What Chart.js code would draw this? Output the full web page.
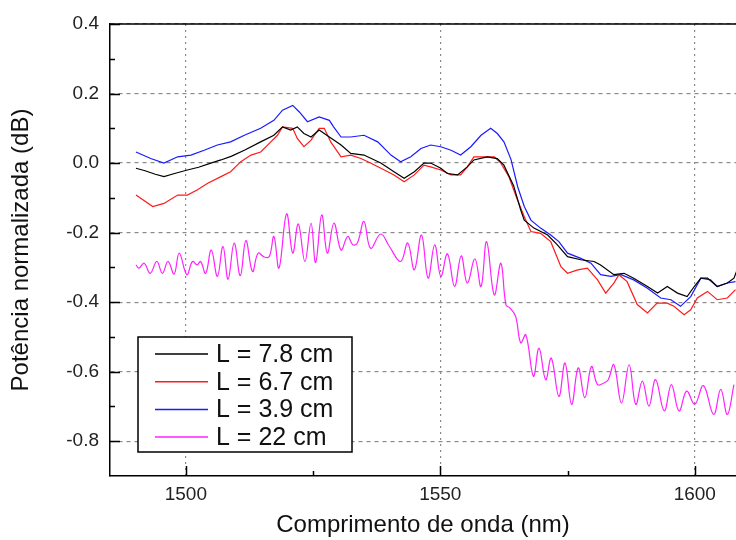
<!DOCTYPE html>
<html>
<head>
<meta charset="utf-8">
<title>Potência normalizada</title>
<script src="https://cdn.jsdelivr.net/npm/chart.js"></script>
<style>
    html, body { margin: 0; padding: 0; background: #fff; }
    #chartBox { width: 736px; height: 540px; }
</style>
</head>
<body>
<div id="chartBox"><canvas id="spectrumChart"></canvas></div>
<script>
// Series data (wavelength in nm, power in dB)
const seriesLabels = ['L = 7.8 cm', 'L = 6.7 cm', 'L = 3.9 cm', 'L = 22 cm'];
const seriesColors = ['#000000', '#ff1a1a', '#1a1aff', '#ff22ff'];

const wlBlack = [1490.2, 1492.0, 1494.0, 1495.7, 1497.8, 1500.3, 1502.5, 1504.9, 1506.9, 1509.0, 1511.5,
    1514.7, 1517.3, 1519.0, 1520.6, 1521.9, 1523.2, 1524.6, 1526.2, 1528.2, 1530.5, 1532.4, 1535.0,
    1538.3, 1540.9, 1542.9, 1544.9, 1546.8, 1548.1, 1550.1, 1551.4, 1553.4, 1555.3, 1556.6, 1559.2,
    1561.2, 1562.5, 1564.4, 1565.8, 1566.5, 1568.4, 1571.1, 1573.0, 1575.0, 1577.6, 1580.2, 1581.5,
    1584.1, 1586.1, 1588.0, 1590.7, 1592.7, 1594.6, 1596.6, 1598.5, 1599.9, 1601.2, 1602.5, 1604.4,
    1606.4, 1607.7, 1608.2];
const powBlack = [-0.015, -0.022, -0.032, -0.039, -0.030, -0.020, -0.012, 0.000, 0.009, 0.020, 0.037,
    0.061, 0.080, 0.104, 0.095, 0.104, 0.085, 0.075, 0.095, 0.075, 0.052, 0.028, 0.023,
    0.000, -0.025, -0.044, -0.025, 0.000, 0.000, -0.015, -0.030, -0.034, -0.011, 0.009, 0.018,
    0.013, -0.006, -0.065, -0.135, -0.164, -0.187, -0.207, -0.235, -0.269, -0.278, -0.283, -0.293,
    -0.321, -0.317, -0.331, -0.355, -0.374, -0.355, -0.374, -0.384, -0.355, -0.331, -0.331, -0.355,
    -0.345, -0.331, -0.312];

const wlRed = [1490.2, 1493.5, 1495.7, 1498.4, 1500.3, 1502.3, 1504.3, 1506.9, 1508.8, 1510.8, 1512.8,
    1514.7, 1516.7, 1518.0, 1519.0, 1521.0, 1521.9, 1523.2, 1524.6, 1526.2, 1527.2, 1528.5, 1530.5,
    1532.4, 1534.4, 1536.3, 1539.0, 1540.9, 1542.9, 1544.9, 1546.8, 1548.1, 1550.1, 1552.1, 1554.0,
    1555.3, 1556.6, 1558.6, 1560.6, 1561.9, 1563.5, 1565.0, 1566.5, 1567.8, 1569.7, 1571.7, 1573.7,
    1575.0, 1577.0, 1578.9, 1580.9, 1582.5, 1584.1, 1585.1, 1586.7, 1588.7, 1590.7, 1592.6, 1594.6,
    1595.9, 1597.9, 1599.2, 1600.5, 1602.5, 1604.4, 1606.4, 1608.0];
const powRed = [-0.092, -0.125, -0.116, -0.092, -0.092, -0.077, -0.058, -0.039, -0.025, 0.004, 0.023,
    0.032, 0.061, 0.080, 0.104, 0.100, 0.071, 0.047, 0.066, 0.100, 0.100, 0.060, 0.018,
    0.023, 0.013, 0.000, -0.020, -0.034, -0.054, -0.034, -0.006, -0.011, -0.020, -0.034, -0.034,
    -0.011, 0.018, 0.018, 0.018, 0.000, -0.040, -0.100, -0.154, -0.197, -0.202, -0.226, -0.298,
    -0.317, -0.307, -0.302, -0.336, -0.374, -0.345, -0.321, -0.341, -0.407, -0.431, -0.403, -0.403,
    -0.412, -0.436, -0.422, -0.388, -0.369, -0.393, -0.388, -0.364];

const wlBlue = [1490.2, 1493.1, 1495.7, 1498.4, 1501.0, 1503.6, 1506.2, 1508.8, 1511.5, 1514.7, 1517.3,
    1519.0, 1521.0, 1522.3, 1523.9, 1526.2, 1528.2, 1529.0, 1530.5, 1532.4, 1535.0, 1537.7, 1540.3,
    1542.2, 1544.2, 1546.2, 1548.1, 1550.1, 1552.1, 1554.0, 1556.0, 1558.0, 1559.9, 1561.2, 1562.5,
    1563.9, 1565.2, 1566.5, 1567.8, 1569.7, 1571.7, 1573.3, 1575.0, 1577.6, 1579.6, 1581.5, 1583.5,
    1585.5, 1588.0, 1590.7, 1593.3, 1595.3, 1597.2, 1599.2, 1601.2, 1603.1, 1604.4, 1606.4, 1608.0];
const powBlue = [0.032, 0.013, 0.000, 0.018, 0.023, 0.037, 0.052, 0.061, 0.080, 0.100, 0.123,
    0.152, 0.166, 0.147, 0.119, 0.133, 0.123, 0.105, 0.075, 0.075, 0.080, 0.061, 0.023,
    0.004, 0.018, 0.042, 0.052, 0.047, 0.037, 0.023, 0.047, 0.080, 0.100, 0.085, 0.061,
    0.010, -0.068, -0.125, -0.164, -0.187, -0.207, -0.226, -0.259, -0.274, -0.288, -0.321, -0.326,
    -0.321, -0.336, -0.360, -0.388, -0.393, -0.412, -0.384, -0.331, -0.336, -0.355, -0.345, -0.341];

const wlMagenta = [1490.2, 1490.8, 1491.8, 1493.0, 1494.3, 1495.4, 1496.5, 1497.7, 1498.7, 1500.2,
    1501.3, 1502.2, 1502.9, 1503.9, 1505.0, 1506.2, 1507.3, 1508.3, 1509.5, 1510.7, 1511.8, 1513.1,
    1514.2, 1515.4, 1516.4, 1517.3, 1518.3, 1519.8, 1521.0, 1522.1, 1523.4, 1524.6, 1525.5, 1526.7,
    1527.8, 1529.1, 1530.5, 1531.8, 1532.8, 1533.7, 1535.0, 1536.3, 1538.3, 1540.0, 1542.2, 1543.6,
    1544.9, 1546.3, 1547.6, 1548.9, 1550.1, 1551.4, 1552.8, 1554.1, 1555.3, 1556.8, 1558.0, 1559.1,
    1560.6, 1561.9, 1562.9, 1563.7, 1564.8, 1565.8, 1566.8, 1568.3, 1569.4, 1570.7, 1571.8, 1573.3,
    1574.5, 1575.8, 1577.1, 1578.4, 1579.7, 1580.9, 1582.2, 1583.0, 1584.1, 1585.6, 1587.1, 1588.4,
    1589.7, 1591.0, 1592.3, 1594.0, 1595.4, 1596.9, 1598.4, 1600.0, 1601.7, 1603.7, 1605.1, 1606.4,
    1607.7];
const powMagenta = [-0.293, -0.302, -0.288, -0.317, -0.283, -0.317, -0.283, -0.319, -0.259, -0.321,
    -0.283, -0.293, -0.283, -0.317, -0.250, -0.326, -0.240, -0.334, -0.230, -0.324, -0.223, -0.312,
    -0.259, -0.270, -0.269, -0.211, -0.302, -0.146, -0.259, -0.175, -0.283, -0.173, -0.286, -0.149,
    -0.259, -0.173, -0.250, -0.211, -0.235, -0.230, -0.168, -0.245, -0.204, -0.240, -0.283, -0.230,
    -0.307, -0.207, -0.331, -0.235, -0.326, -0.261, -0.355, -0.267, -0.345, -0.276, -0.355, -0.226,
    -0.379, -0.288, -0.408, -0.417, -0.441, -0.517, -0.494, -0.613, -0.532, -0.623, -0.561, -0.671,
    -0.575, -0.694, -0.589, -0.675, -0.585, -0.637, -0.632, -0.623, -0.580, -0.690, -0.580, -0.694,
    -0.627, -0.699, -0.623, -0.713, -0.637, -0.713, -0.656, -0.694, -0.640, -0.723, -0.651, -0.723,
    -0.637];

// Axis ticks
const xRange = [1485.1, 1608.1];
const yRange = [-0.9, 0.4];
const xTicks = [1500, 1550, 1600];
const xMinorTicks = [1525, 1575];
const yTicks = [0.4, 0.2, 0.0, -0.2, -0.4, -0.6, -0.8];
const yMinorTicks = [0.3, 0.1, -0.1, -0.3, -0.5, -0.7];

document.addEventListener('DOMContentLoaded', function() {
    initializeSpectrumChart();
});

// Pair up wavelength and power arrays into points
function toPoints(wl, pow) {
    return wl.map((x, i) => ({ x: x, y: pow[i] }));
}

// Inward tick marks and the top frame line
const frameTicksPlugin = {
    id: 'frameTicks',
    afterDraw(chart) {
        const { ctx, chartArea, scales } = chart;
        ctx.save();
        ctx.strokeStyle = '#000';
        ctx.lineWidth = 1.5;
        ctx.beginPath();
        ctx.moveTo(chartArea.left, chartArea.top);
        ctx.lineTo(chartArea.right, chartArea.top);

        function tickX(v, len) {
            const px = Math.round(scales.x.getPixelForValue(v)) + 0.5;
            ctx.moveTo(px, chartArea.bottom);
            ctx.lineTo(px, chartArea.bottom - len);
        }
        function tickY(v, len) {
            const py = Math.round(scales.y.getPixelForValue(v)) + 0.5;
            ctx.moveTo(chartArea.left, py);
            ctx.lineTo(chartArea.left + len, py);
        }
        xTicks.forEach(v => tickX(v, 10));
        xMinorTicks.forEach(v => tickX(v, 5));
        yTicks.forEach(v => tickY(v, 10));
        yMinorTicks.forEach(v => tickY(v, 5));
        ctx.stroke();
        ctx.restore();
    }
};

// Boxed legend in the lower left of the plot
const legendBoxPlugin = {
    id: 'legendBox',
    afterDraw(chart) {
        const { ctx, chartArea } = chart;
        const left = chartArea.left + 28;
        const top = chartArea.bottom - 139;
        const width = 214;
        const height = 115;
        ctx.save();
        ctx.fillStyle = '#fff';
        ctx.fillRect(left, top, width, height);
        ctx.strokeStyle = '#000';
        ctx.lineWidth = 1.5;
        ctx.strokeRect(left, top, width, height);

        ctx.font = '25px "Liberation Sans", Arial, sans-serif';
        ctx.textBaseline = 'middle';
        chart.data.datasets.forEach((ds, i) => {
            const y = top + 17 + i * 27.7;
            ctx.strokeStyle = ds.borderColor;
            ctx.lineWidth = 1.5;
            ctx.beginPath();
            ctx.moveTo(left + 17, y);
            ctx.lineTo(left + 70, y);
            ctx.stroke();
            ctx.fillStyle = '#111';
            ctx.fillText(ds.label, left + 78, y + 1);
        });
        ctx.restore();
    }
};

// Initialize the spectrum chart
function initializeSpectrumChart() {
    const ctx = document.getElementById('spectrumChart');
    if (!ctx) return;

    const wls = [wlBlack, wlRed, wlBlue, wlMagenta];
    const pows = [powBlack, powRed, powBlue, powMagenta];

    const datasets = seriesLabels.map((label, i) => ({
        label: label,
        data: toPoints(wls[i], pows[i]),
        borderColor: seriesColors[i],
        backgroundColor: seriesColors[i],
        borderWidth: 1.2,
        pointRadius: 0,
        fill: false,
        tension: i === 3 ? 0.4 : 0
    }));

    const tickFont = { family: '"Liberation Sans", Arial, sans-serif', size: 19 };
    const titleFont = { family: '"Liberation Sans", Arial, sans-serif', size: 24 };

    new Chart(ctx, {
        type: 'line',
        data: { datasets: datasets },
        options: {
            responsive: true,
            maintainAspectRatio: false,
            animation: false,
            layout: { padding: { top: 24, right: 0, bottom: 0, left: 0 } },
            plugins: {
                legend: { display: false },
                tooltip: { enabled: false }
            },
            scales: {
                x: {
                    type: 'linear',
                    min: xRange[0],
                    max: xRange[1],
                    afterBuildTicks: function(scale) {
                        scale.ticks = xTicks.map(v => ({ value: v }));
                    },
                    afterFit: function(scale) {
                        scale.height = 64;
                    },
                    grid: {
                        color: '#8a8a8a',
                        lineWidth: 1.2,
                        drawTicks: false
                    },
                    border: { display: true, color: '#000', width: 1.5, dash: [2, 4] },
                    ticks: {
                        font: tickFont,
                        color: '#222',
                        padding: 7,
                        maxRotation: 0,
                        callback: function(value) { return String(value); }
                    },
                    title: {
                        display: true,
                        text: 'Comprimento de onda (nm)',
                        font: titleFont,
                        color: '#111',
                        padding: { top: 0, bottom: 0 }
                    }
                },
                y: {
                    type: 'linear',
                    min: yRange[0],
                    max: yRange[1],
                    afterBuildTicks: function(scale) {
                        scale.ticks = yTicks.map(v => ({ value: v }));
                    },
                    afterFit: function(scale) {
                        scale.width = 110;
                    },
                    grid: {
                        color: '#8a8a8a',
                        lineWidth: 1.2,
                        drawTicks: false
                    },
                    border: { display: true, color: '#000', width: 1.5, dash: [4, 4] },
                    ticks: {
                        font: tickFont,
                        color: '#222',
                        padding: 11,
                        callback: function(value) { return value.toFixed(1); }
                    },
                    title: {
                        display: true,
                        text: 'Potência normalizada (dB)',
                        font: titleFont,
                        color: '#111',
                        padding: { top: 7, bottom: 0 }
                    }
                }
            }
        },
        plugins: [frameTicksPlugin, legendBoxPlugin]
    });
}
</script>
</body>
</html>
